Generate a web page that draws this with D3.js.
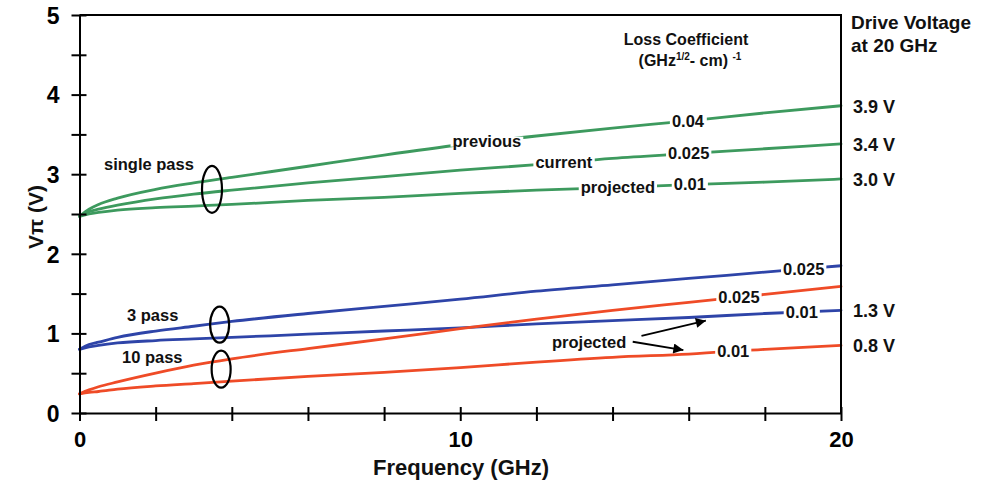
<!DOCTYPE html>
<html>
<head>
<meta charset="utf-8">
<script src="https://cdn.jsdelivr.net/npm/d3@7"></script>
<style>
  html, body { margin: 0; padding: 0; background: #ffffff; }
  svg { display: block; font-family: "Liberation Sans", Arial, Helvetica, sans-serif; font-weight: bold; }
</style>
</head>
<body>
<svg id="chart" width="984" height="486"></svg>
<script>
// ---------------- data ----------------
const freq = [0, 0.25, 0.5, 1, 2, 3, 4, 6, 8, 10, 12, 14, 16, 18, 20];
const singlePrevious  = [2.47, 2.56, 2.62, 2.70, 2.81, 2.89, 2.96, 3.10, 3.24, 3.37, 3.48, 3.58, 3.67, 3.77, 3.86];
const singleCurrent   = [2.47, 2.53, 2.56, 2.61, 2.69, 2.75, 2.80, 2.89, 2.97, 3.05, 3.12, 3.20, 3.26, 3.32, 3.38];
const singleProjected = [2.47, 2.50, 2.52, 2.55, 2.58, 2.60, 2.62, 2.67, 2.71, 2.76, 2.80, 2.83, 2.87, 2.90, 2.94];
const threePass025    = [0.80, 0.86, 0.89, 0.95, 1.03, 1.09, 1.15, 1.25, 1.34, 1.43, 1.53, 1.61, 1.69, 1.77, 1.85];
const threePass01     = [0.80, 0.83, 0.85, 0.88, 0.91, 0.93, 0.95, 0.99, 1.03, 1.07, 1.12, 1.16, 1.20, 1.25, 1.29];
const tenPass025      = [0.24, 0.29, 0.33, 0.39, 0.50, 0.60, 0.68, 0.81, 0.93, 1.06, 1.18, 1.29, 1.39, 1.49, 1.59];
const tenPass01       = [0.24, 0.26, 0.27, 0.30, 0.34, 0.37, 0.40, 0.46, 0.51, 0.57, 0.64, 0.70, 0.74, 0.80, 0.85];

const xTicks = [0, 2, 4, 6, 8, 10, 12, 14, 16, 18, 20];
const xTickLabels = ["0", "", "", "", "", "10", "", "", "", "", "20"];
const yTicks = [0, 0.5, 1, 1.5, 2, 2.5, 3, 3.5, 4, 4.5, 5];
const yTickLabels = ["0", "", "1", "", "2", "", "3", "", "4", "", "5"];
const driveVoltageLabels = ["3.9 V", "3.4 V", "3.0 V", "1.3 V", "0.8 V"];
const driveVoltageValues = [3.86, 3.38, 2.94, 1.29, 0.85];

// ---------------- setup ----------------
const GREEN = "#3d9a5e", BLUE = "#2e44a8", RED = "#ef4b27";
const svg = d3.select("#chart");
const x = d3.scaleLinear().domain([0, 20]).range([79.5, 841]);
const y = d3.scaleLinear().domain([0, 5]).range([413, 15]);

function interp(vals, f) {
  for (let i = 0; i < freq.length - 1; i++) {
    if (f >= freq[i] && f <= freq[i + 1]) {
      const t = (f - freq[i]) / (freq[i + 1] - freq[i]);
      return vals[i] + t * (vals[i + 1] - vals[i]);
    }
  }
  return vals[vals.length - 1];
}

const series = [
  { vals: singlePrevious,  color: GREEN, labels: [{ t: "previous", f: 10.70 }, { t: "0.04", f: 15.98 }] },
  { vals: singleCurrent,   color: GREEN, labels: [{ t: "current", f: 12.72 }, { t: "0.025", f: 16.0 }] },
  { vals: singleProjected, color: GREEN, labels: [{ t: "projected", f: 14.14 }, { t: "0.01", f: 16.03 }] },
  { vals: threePass025,    color: BLUE,  labels: [{ t: "0.025", f: 19.02 }] },
  { vals: threePass01,     color: BLUE,  labels: [{ t: "0.01", f: 18.97 }] },
  { vals: tenPass025,      color: RED,   labels: [{ t: "0.025", f: 17.32 }] },
  { vals: tenPass01,       color: RED,   labels: [{ t: "0.01", f: 17.17 }] }
];

// ---------------- lines ----------------
const line = d3.line().x(d => x(d[0])).y(d => y(d[1])).curve(d3.curveMonotoneX);
const gLines = svg.append("g");
series.forEach(s => {
  gLines.append("path")
    .attr("d", line(freq.map((f, i) => [f, s.vals[i]])))
    .attr("fill", "none")
    .attr("stroke", s.color)
    .attr("stroke-width", 2.8)
    .attr("stroke-linecap", "round");
});

// ---------------- axes ----------------
const xAxis = d3.axisBottom(x).tickValues(xTicks).tickSizeInner(8).tickSizeOuter(0)
  .tickFormat((d, i) => xTickLabels[i]);
const gx = svg.append("g").attr("transform", `translate(0,${y(0)})`).call(xAxis);
gx.select(".domain").attr("stroke", "#000").attr("stroke-width", 2);
gx.selectAll(".tick line").attr("y1", -6).attr("y2", 8).attr("stroke", "#000").attr("stroke-width", 2);
gx.selectAll(".tick text").attr("y", 34).attr("dy", null)
  .attr("font-size", 22).attr("font-weight", "bold").attr("fill", "#000")
  .attr("font-family", "Liberation Sans, Arial, sans-serif");

const yAxis = d3.axisLeft(y).tickValues(yTicks).tickSizeInner(8).tickSizeOuter(0)
  .tickFormat((d, i) => yTickLabels[i]);
const gy = svg.append("g").attr("transform", `translate(${x(0)},0)`).call(yAxis);
gy.select(".domain").attr("stroke", "#000").attr("stroke-width", 2);
gy.selectAll(".tick line").attr("x1", 7).attr("x2", -8).attr("stroke", "#000").attr("stroke-width", 2);
gy.selectAll(".tick text").attr("x", -20).attr("dy", "0.36em")
  .attr("font-size", 23).attr("font-weight", "bold").attr("fill", "#000")
  .attr("font-family", "Liberation Sans, Arial, sans-serif");

// top and right frame
svg.append("path")
  .attr("d", `M${x(0)},${y(5)}H${x(20)}V${y(0)}`)
  .attr("fill", "none").attr("stroke", "#000").attr("stroke-width", 2);

// ---------------- on-line labels ----------------
const gLab = svg.append("g");
series.forEach(s => {
  s.labels.forEach(l => {
    const cx = x(l.f), cy = y(interp(s.vals, l.f));
    const g = gLab.append("g");
    const rect = g.append("rect").attr("fill", "#fff");
    const t = g.append("text").attr("x", cx).attr("y", cy).attr("dy", "0.35em")
      .attr("text-anchor", "middle").attr("font-size", 16.5).attr("fill", "#111").text(l.t);
    const b = t.node().getBBox();
    rect.attr("x", b.x - 2).attr("y", cy - 5).attr("width", b.width + 4).attr("height", 10);
  });
});

// right side drive voltage labels
svg.append("g").selectAll("text").data(driveVoltageLabels).join("text")
  .attr("x", 853).attr("y", (d, i) => y(driveVoltageValues[i]) + 7)
  .attr("font-size", 18).attr("fill", "#111").text(d => d);

// headers
svg.append("text").attr("x", 851).attr("y", 29).attr("font-size", 19).attr("fill", "#111").text("Drive Voltage");
svg.append("text").attr("x", 851).attr("y", 52).attr("font-size", 19).attr("fill", "#111").text("at 20 GHz");
svg.append("text").attr("x", 686).attr("y", 45).attr("text-anchor", "middle").attr("font-size", 16).attr("fill", "#111").text("Loss Coefficient");
const lc = svg.append("text").attr("x", 690).attr("y", 66).attr("text-anchor", "middle").attr("font-size", 16).attr("fill", "#111");
lc.append("tspan").text("(GHz");
lc.append("tspan").attr("font-size", 10).attr("dy", -6).text("1/2");
lc.append("tspan").attr("dy", 6).text("- cm) ");
lc.append("tspan").attr("font-size", 10).attr("dy", -6).text("-1");

// group labels
svg.append("text").attr("x", 104).attr("y", 170).attr("font-size", 16.5).attr("fill", "#111").text("single pass");
svg.append("text").attr("x", 127).attr("y", 321).attr("font-size", 16.5).attr("fill", "#111").text("3 pass");
svg.append("text").attr("x", 122).attr("y", 363).attr("font-size", 16.5).attr("fill", "#111").text("10 pass");

// ellipses
const ell = [
  { f: 3.48, v: 2.81, rx: 10, ry: 23.5 },
  { f: 3.68, v: 1.11, rx: 9.5, ry: 18 },
  { f: 3.72, v: 0.55, rx: 9.5, ry: 18.5 }
];
svg.append("g").selectAll("ellipse").data(ell).join("ellipse")
  .attr("cx", d => x(d.f)).attr("cy", d => y(d.v)).attr("rx", d => d.rx).attr("ry", d => d.ry)
  .attr("fill", "none").attr("stroke", "#000").attr("stroke-width", 2.2);

// projected arrows
svg.append("defs").append("marker").attr("id", "arr").attr("viewBox", "0 0 10 10")
  .attr("refX", 10).attr("refY", 5).attr("markerWidth", 14).attr("markerHeight", 10)
  .attr("markerUnits", "userSpaceOnUse").attr("orient", "auto")
  .append("path").attr("d", "M0,0L10,5L0,10Z").attr("fill", "#000");
svg.append("text").attr("x", 552).attr("y", 348).attr("font-size", 16.5).attr("fill", "#111").text("projected");
const arrows = [
  { f0: 14.76, v0: 0.97, f1: 16.45, v1: 1.16 },
  { f0: 14.53, v0: 0.895, f1: 15.86, v1: 0.79 }
];
svg.append("g").selectAll("line").data(arrows).join("line")
  .attr("x1", d => x(d.f0)).attr("y1", d => y(d.v0)).attr("x2", d => x(d.f1)).attr("y2", d => y(d.v1))
  .attr("stroke", "#000").attr("stroke-width", 1.8).attr("marker-end", "url(#arr)");

// axis titles
svg.append("text").attr("x", 461).attr("y", 475).attr("text-anchor", "middle").attr("font-size", 22).attr("fill", "#111").text("Frequency (GHz)");
svg.append("text").attr("transform", "translate(43,217) rotate(-90)").attr("text-anchor", "middle")
  .attr("font-size", 21).attr("fill", "#111").text("Vπ (V)");
</script>
</body>
</html>
